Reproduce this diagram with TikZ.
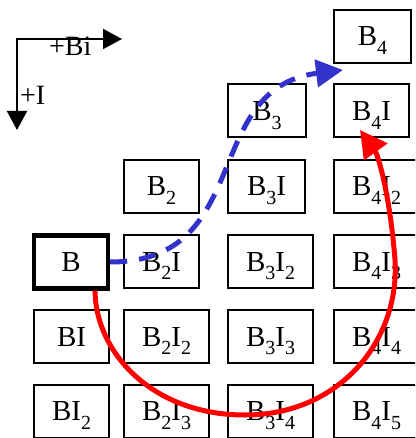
\documentclass[tikz,border=0pt]{standalone}
\usepackage{fontspec}
\setmainfont{Liberation Serif}
\usetikzlibrary{arrows.meta}
\definecolor{dashblue}{RGB}{51,51,204}
\newcommand{\sbs}[1]{\raisebox{-0.3em}{\fontsize{20}{20}\selectfont #1}}

\begin{document}
\begin{tikzpicture}[x=1pt, y=-1pt,
  cell/.style={draw, line width=2pt, anchor=west, minimum width=75pt, minimum height=53pt,
    inner sep=0pt, text height=19pt, text depth=0pt, font=\fontsize{29}{29}\selectfont},
  wide/.style={minimum width=85pt},
  home/.style={line width=4.2pt},
  dirarrow/.style={line width=2pt, {Triangle[length=19pt,width=20pt]}-{Triangle[length=19pt,width=20pt]}},
  lbl/.style={anchor=base west, inner sep=0pt, font=\fontsize{28}{28}\selectfont}]
  \clip (0,0) rectangle (415,438);
  % axes
  \coordinate (ax0) at (17,39);
  \coordinate (axBi) at (122,39);
  \coordinate (axI) at (17,130);
  \draw[dirarrow] (axBi) -- (ax0) -- (axI);
  \node[lbl] (lblBi) at (49,56) {+Bi};
  \node[lbl] (lblI) at (20,105) {+I};
  % first column
  \node[cell, home, minimum width=74pt] (B) at (32,262) {B};
  \node[cell] (BI) at (33,336.5) {BI};
  \node[cell] (BI2) at (33,411) {BI\sbs{2}};
  % second column
  \node[cell] (B2) at (123,186.5) {B\sbs{2}};
  \node[cell] (B2I) at (123,261.5) {B\sbs{2}I};
  \node[cell, wide] (B2I2) at (123,336.5) {B\sbs{2}I\sbs{2}};
  \node[cell, wide] (B2I3) at (123,411) {B\sbs{2}I\sbs{3}};
  % third column
  \node[cell, minimum width=78pt] (B3) at (227,111) {B\sbs{3}};
  \node[cell, minimum width=77pt] (B3I) at (227,186.5) {B\sbs{3}I};
  \node[cell, wide] (B3I2) at (227,261.5) {B\sbs{3}I\sbs{2}};
  \node[cell, wide] (B3I3) at (227,336.5) {B\sbs{3}I\sbs{3}};
  \node[cell, wide] (B3I4) at (227,411) {B\sbs{3}I\sbs{4}};
  % fourth column
  \node[cell, minimum width=77pt] (B4) at (333,36.5) {B\sbs{4}};
  \node[cell] (B4I) at (333,111) {B\sbs{4}I};
  \node[cell, wide] (B4I2) at (333,186.5) {B\sbs{4}I\sbs{2}};
  \node[cell, wide] (B4I3) at (333,261.5) {B\sbs{4}I\sbs{3}};
  \node[cell, wide] (B4I4) at (333,336.5) {B\sbs{4}I\sbs{4}};
  \node[cell, wide] (B4I5) at (333,411) {B\sbs{4}I\sbs{5}};
  % moves
  \coordinate (bluetip) at (343,70);
  \coordinate (redlow) at (245,415);
  \coordinate (redside) at (395,260);
  \coordinate (redtip) at (360,130);
  \draw[dashblue, line width=5pt, dash pattern=on 17pt off 12pt, -{Triangle[length=27pt,width=27pt]}]
    (B.east) .. controls (255,262) and (200,88) .. (bluetip);
  \draw[red, line width=5pt, -{Triangle[length=27pt,width=28pt]}]
    (B.-50) .. controls (95,350) and (150,415) .. (redlow)
    .. controls (340,415) and (400,340) .. (redside)
    .. controls (390,195) and (378,155) .. (redtip);
\end{tikzpicture}
\end{document}
